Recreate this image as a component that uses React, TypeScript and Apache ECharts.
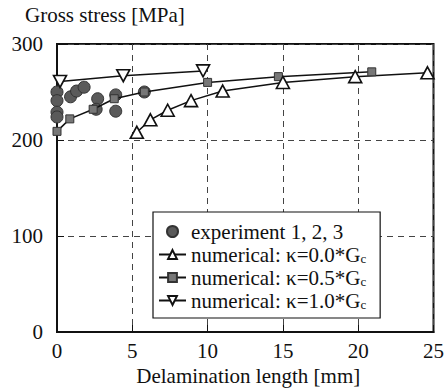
import React, { useEffect, useRef } from "react";
import * as echarts from "echarts";

const experiment: [number, number][] = [
  [0, 250], [0, 241], [0, 229], [0, 224], [0.9, 245], [1.3, 251], [1.8, 255],
  [2.7, 243], [2.6, 232], [3.9, 247], [3.9, 230], [5.8, 250],
];
const k00: [number, number][] = [
  [5.3, 208], [6.2, 221], [7.35, 231], [8.9, 241], [11, 251], [15, 260], [19.8, 266], [24.6, 270],
];
const k05: [number, number][] = [
  [0, 209], [0.85, 222], [2.4, 232], [3.8, 243], [5.8, 250], [10, 260], [14.7, 266], [20.9, 271],
];
const k10: [number, number][] = [
  [0.2, 261], [4.4, 267], [9.7, 272],
];
const xTicks = [0, 5, 10, 15, 20, 25];
const yTicks = [0, 100, 200, 300];

const FONT = "'Liberation Serif', 'Times New Roman', serif";
const FS = 21;

export default function App() {
  const ref = useRef<HTMLDivElement>(null);
  useEffect(() => {
    const chart = echarts.init(ref.current!, null, { renderer: "svg" });
    const rich = {
      main: { fontSize: FS, fontFamily: FONT, color: "#111", lineHeight: 21 },
      sub: {
        fontSize: 13, fontFamily: FONT, color: "#111", lineHeight: 13,
        padding: [6, 0, 0, 0], verticalAlign: "bottom",
      },
    };
    chart.setOption({
      animation: false,
      backgroundColor: "#fff",
      textStyle: { fontFamily: FONT },
      grid: {
        left: 57, right: 13, top: 44, bottom: 60,
        show: true, borderColor: "#111", borderWidth: 2, backgroundColor: "transparent",
      },
      graphic: [
        {
          type: "text", left: 25, top: 4,
          style: { text: "Gross stress [MPa]", font: `normal ${FS}px ${FONT}`, fill: "#111" },
        },
      ],
      xAxis: {
        type: "value", min: xTicks[0], max: xTicks[xTicks.length - 1], interval: 5,
        name: "Delamination length [mm]", nameLocation: "middle", nameGap: 33,
        nameTextStyle: { fontFamily: FONT, fontSize: FS, color: "#111", padding: [0, 0, 0, 6] },
        axisLine: { show: true, lineStyle: { color: "#111", width: 2 } },
        axisTick: { show: true, inside: true, length: 7, lineStyle: { color: "#111" } },
        axisLabel: { fontFamily: FONT, fontSize: FS, color: "#111", margin: 8 },
        splitLine: { show: true, lineStyle: { color: "#444", type: [6, 5], width: 1 } },
      },
      yAxis: {
        type: "value", min: yTicks[0], max: yTicks[yTicks.length - 1], interval: 100,
        axisLine: { show: true, lineStyle: { color: "#111", width: 2 } },
        axisTick: { show: true, inside: true, length: 7, lineStyle: { color: "#111" } },
        axisLabel: { fontFamily: FONT, fontSize: FS, color: "#111", margin: 14 },
        splitLine: { show: true, lineStyle: { color: "#444", type: [6, 5], width: 1 } },
      },
      legend: {
        orient: "vertical",
        left: 153, top: 212,
        padding: [9, 14, 7, 5],
        itemGap: 2,
        itemWidth: 27, itemHeight: 11,
        backgroundColor: "#fff",
        borderColor: "#111", borderWidth: 1.2, borderRadius: 0,
        textStyle: { fontFamily: FONT, fontSize: FS, color: "#111", lineHeight: 21, rich },
        formatter: (name: string) => {
          if (name.endsWith("G_c")) return "{main|" + name.replace("G_c", "G") + "}{sub|c}";
          return "{main|" + name + "}";
        },
        data: [
          "experiment 1, 2, 3",
          "numerical: κ=0.0*G_c",
          "numerical: κ=0.5*G_c",
          "numerical: κ=1.0*G_c",
        ],
      },
      series: [
        {
          name: "numerical: κ=1.0*G_c", type: "line", data: k10,
          symbol: "triangle", symbolRotate: 180, symbolSize: [13, 12],
          lineStyle: { color: "#111", width: 1.5 },
          itemStyle: { color: "#fff", borderColor: "#111", borderWidth: 1.6 },
        },
        {
          name: "numerical: κ=0.5*G_c", type: "line", data: k05,
          symbol: "rect", symbolSize: 8,
          lineStyle: { color: "#111", width: 1.5 },
          itemStyle: { color: "#777", borderColor: "#333", borderWidth: 1 },
        },
        {
          name: "numerical: κ=0.0*G_c", type: "line", data: k00,
          symbol: "triangle", symbolSize: [13, 12],
          lineStyle: { color: "#111", width: 1.5 },
          itemStyle: { color: "#fff", borderColor: "#111", borderWidth: 1.6 },
        },
        {
          name: "experiment 1, 2, 3", type: "scatter", data: experiment,
          symbol: "circle", symbolSize: 12,
          itemStyle: { color: "#5a5a5a", borderColor: "#333", borderWidth: 1, opacity: 1 },
        },
      ],
    });
    return () => chart.dispose();
  }, []);
  return (
    <div
      ref={ref}
      style={{ position: "fixed", left: 0, top: 0, width: 447, height: 392 }}
    />
  );
}
